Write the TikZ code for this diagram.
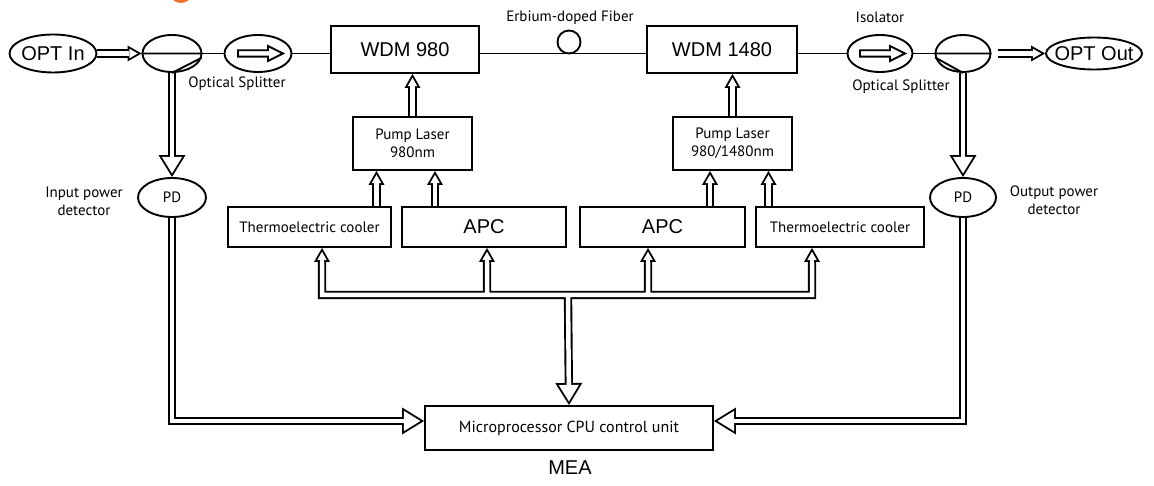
\documentclass[tikz,border=0pt]{standalone}
\usepackage{fontspec}
\setmainfont{PT Sans}
\newfontfamily\arialfont{Liberation Sans}
\usetikzlibrary{shapes.geometric,backgrounds,positioning,arrows.meta}
\definecolor{badge}{RGB}{236,112,40}
\tikzstyle{box}=[draw,rectangle,inner sep=0pt]
\tikzstyle{oval}=[draw,ellipse,inner sep=0pt]
\tikzstyle{lbl}=[font=\fontsize{15}{18}\selectfont,align=center,inner sep=0pt]
\tikzstyle{bigtxt}=[font=\arialfont\fontsize{20}{24}\selectfont]
\tikzstyle{pipe}=[draw=white,line width=4.5pt,shorten >=3.83pt,
  -{Triangle[length=8.27pt,width=9.45pt,line width=0pt]},
  preaction={draw=black,line width=8.3pt,shorten >=0pt,-{Triangle[length=14pt,width=16pt,line width=0pt]}}]
\tikzstyle{bigpipe}=[draw=white,line width=4.5pt,shorten >=3.64pt,
  -{Triangle[length=16.46pt,width=20.2pt,line width=0pt]},
  preaction={draw=black,line width=8.3pt,shorten >=0pt,-{Triangle[length=22pt,width=27pt,line width=0pt]}}]
\tikzset{
  isoarr/.pic={\draw (-20pt,-3.2pt) -- (10pt,-3.2pt) -- (10pt,-7.5pt) -- (25pt,0pt) -- (10pt,7.5pt) -- (10pt,3.2pt) -- (-20pt,3.2pt) -- cycle;}
}

\begin{document}
\begin{tikzpicture}[x=1pt,y=-1pt,line width=1.9pt]
\useasboundingbox (0,0) rectangle (1154,486);
\fill[badge] (181,-9) circle (12pt);

\node[oval,minimum width=87pt,minimum height=38pt,bigtxt] at (53, 53.5) (optin) {\makebox[0pt]{OPT In}};
\node[oval,minimum width=59pt,minimum height=37pt] at (172, 53.5) (sp1) {};
\node[oval,minimum width=67pt,minimum height=37pt] at (258, 53.5) (iso1) {};
\node[box,minimum width=148pt,minimum height=47pt,bigtxt] at (405, 49.5) (wdm1) {WDM 980};
\node[circle,draw,minimum size=23pt,inner sep=0pt] at (569, 42) (fiber) {};
\node[box,minimum width=150pt,minimum height=47pt,bigtxt] at (722, 49.5) (wdm2) {WDM 1480};
\node[oval,minimum width=65pt,minimum height=37pt] at (880, 53.5) (iso2) {};
\node[oval,minimum width=55pt,minimum height=37pt] at (963, 53.5) (sp2) {};
\node[oval,minimum width=96pt,minimum height=32pt,bigtxt] at (1094, 53.5) (optout) {\makebox[0pt]{OPT Out}};

\node[lbl] at (237, 84) (lsp1) {Optical Splitter};
\node[lbl] at (570, 18) (lfiber) {Erbium-doped Fiber};
\node[lbl] at (880, 17) (liso) {Isolator};
\node[lbl] at (901, 87) (lsp2) {Optical Splitter};

\node[box,minimum width=119pt,minimum height=53pt,lbl] at (412.5, 143.5) (pump1) {Pump Laser\\980nm};
\node[box,minimum width=119pt,minimum height=53pt,lbl] at (732.5, 143.5) (pump2) {Pump Laser\\980/1480nm};
\node[box,minimum width=163pt,minimum height=40pt,lbl] at (309.5, 227) (tec1) {Thermoelectric cooler};
\node[box,minimum width=164pt,minimum height=40pt,bigtxt] at (484, 227) (apc1) {APC};
\node[box,minimum width=165pt,minimum height=40pt,bigtxt] at (662.5, 227) (apc2) {APC};
\node[box,minimum width=168pt,minimum height=40pt,lbl] at (840, 227) (tec2) {Thermoelectric cooler};

\node[oval,minimum width=68pt,minimum height=39pt,lbl] at (172, 197.5) (pd1) {PD};
\node[oval,minimum width=66pt,minimum height=39pt,lbl] at (963, 197.5) (pd2) {PD};
\node[lbl] at (84, 201) (lpd1) {Input power\\detector};
\node[lbl] at (1054, 200) (lpd2) {Output power\\detector};

\node[box,minimum width=288pt,minimum height=44pt,lbl,font=\fontsize{16}{19}\selectfont] at (569, 428) (cpu) {Microprocessor CPU control unit};
\node[bigtxt] at (570, 468) (mea) {MEA};

\draw (sp1.west) -- (sp1.east) (sp1.-8) -- (sp1.south);
\draw (sp2.west) -- (sp2.east) (sp2.188) -- (sp2.south);
\pic at (iso1) {isoarr};
\pic at (iso2) {isoarr};
\draw (sp1.east) -- (iso1.west);
\draw (iso1.east) -- (iso1.east -| wdm1.west);
\draw (wdm1.east |- sp1.east) -- (wdm2.west |- sp1.east);
\draw (wdm2.east |- iso2.west) -- (iso2.west);
\draw (iso2.east) -- (sp2.west);

\coordinate (w1) at (pump1.north |- wdm1.south);
\coordinate (w2) at (pump2.north |- wdm2.south);
\coordinate (p1a) at ([xshift=-36pt]pump1.south);
\coordinate (p1b) at ([xshift=22.5pt]pump1.south);
\coordinate (p2a) at ([xshift=-22.5pt]pump2.south);
\coordinate (p2b) at ([xshift=36pt]pump2.south);
\coordinate (bus) at (568, 295);
\coordinate (c1) at ([xshift=12.5pt]tec1.south);
\coordinate (c2) at ([xshift=3pt]apc1.south);
\coordinate (c3) at ([xshift=-14.5pt]apc2.south);
\coordinate (c4) at ([xshift=-28pt]tec2.south);
\coordinate (f1) at ([yshift=7pt]cpu.west);
\coordinate (f2) at ([yshift=7pt]cpu.east);

\begin{scope}[on background layer]
\draw[pipe] (optin.east) -- (sp1.west);
\draw[pipe] ([xshift=7pt]sp2.east) -- (optout.west);
\draw[bigpipe] (sp1.south) -- (pd1.north);
\draw[bigpipe] (sp2.south) -- (pd2.north);
\draw[pipe] (pump1.north) -- (w1);
\draw[pipe] (pump2.north) -- (w2);
\draw[pipe] (p1a |- tec1.north) -- (p1a);
\draw[pipe] (p1b |- apc1.north) -- (p1b);
\draw[pipe] (p2a |- apc2.north) -- (p2a);
\draw[pipe] (p2b |- tec2.north) -- (p2b);
\draw[bigpipe] ([yshift=-14pt]c1) |- (bus) -| ([yshift=-14pt]c4)
  ([yshift=-14pt]c2) -- (c2 |- bus) ([yshift=-14pt]c3) -- (c3 |- bus)
  (bus) -- (cpu.north);
\foreach \q in {c1,c2,c3,c4}
  \draw[pipe] ([yshift=-14pt]\q) -- (\q);
\draw[bigpipe] (pd1.south) |- (f1);
\draw[bigpipe] (pd2.south) |- (f2);
\end{scope}
\end{tikzpicture}
\end{document}
